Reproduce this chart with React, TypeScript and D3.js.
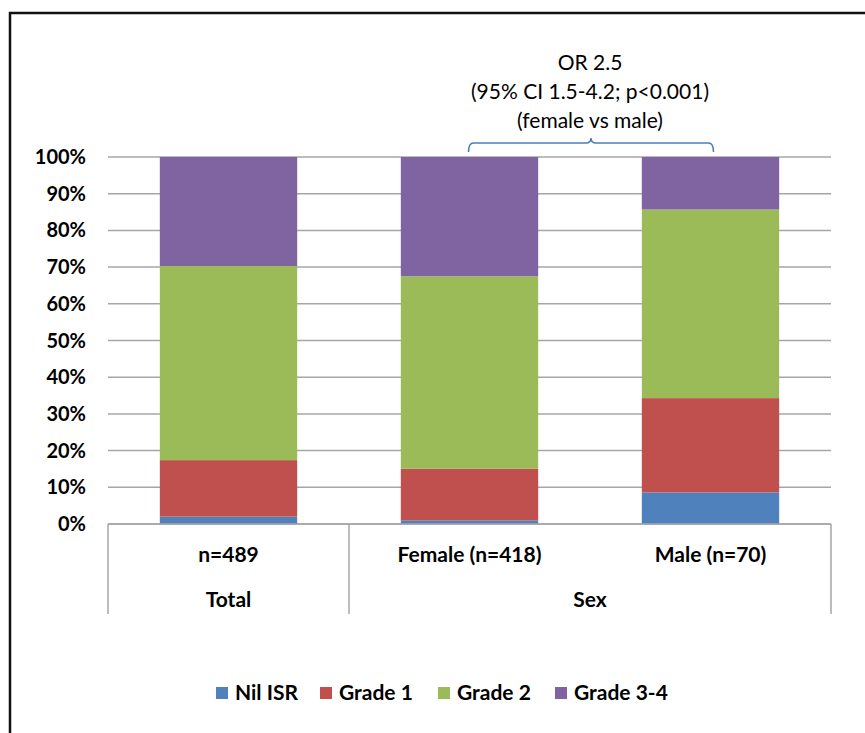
import React from "react";
import * as d3 from "d3";

const categories = ["n=489", "Female (n=418)", "Male (n=70)"];
const groups = [
  { label: "Total", span: 1 },
  { label: "Sex", span: 2 },
];
const seriesNames = ["Nil ISR", "Grade 1", "Grade 2", "Grade 3-4"];
const seriesColors = ["#4f81bd", "#c0504d", "#9bbb59", "#8064a2"];
const nilISR = [2.0, 1.0, 8.6];
const grade1 = [15.4, 14.1, 25.7];
const grade2 = [52.9, 52.4, 51.4];
const grade34 = [29.7, 32.5, 14.3];
const yTicks = [0, 10, 20, 30, 40, 50, 60, 70, 80, 90, 100];
const annotationLines = ["OR 2.5", "(95% CI 1.5-4.2; p<0.001)", "(female vs male)"];

const W = 865;
const H = 733;
const plot = { left: 108, right: 831, top: 157, bottom: 524 };
const FONT = "Lato, 'Open Sans', sans-serif";

export default function App() {
  const x = d3
    .scaleBand<string>()
    .domain(categories)
    .range([plot.left, plot.right])
    .paddingInner(0.43)
    .paddingOuter(0.215);
  const y = d3.scaleLinear().domain([0, 100]).range([plot.bottom, plot.top]);

  const rows = categories.map((c, i) => ({
    cat: c,
    "Nil ISR": nilISR[i],
    "Grade 1": grade1[i],
    "Grade 2": grade2[i],
    "Grade 3-4": grade34[i],
  }));
  const stacked = d3.stack<any>().keys(seriesNames)(rows);

  const step = (plot.right - plot.left) / categories.length;
  const bounds: number[] = [plot.left];
  let acc = 0;
  groups.forEach((g) => {
    acc += g.span;
    bounds.push(plot.left + acc * step);
  });

  const femaleX = x(categories[1])! + x.bandwidth() / 2;
  const maleX = x(categories[2])! + x.bandwidth() / 2;
  const bx0 = femaleX - 1;
  const bx1 = maleX + 3;
  const bmid = (bx0 + bx1) / 2;
  const bTop = 142;
  const bBot = 152;

  const legendItems = [
    { x: 216, text: seriesNames[0] },
    { x: 320, text: seriesNames[1] },
    { x: 438, text: seriesNames[2] },
    { x: 555, text: seriesNames[3] },
  ];

  return (
    <svg
      width={W}
      height={H}
      style={{ position: "absolute", left: 0, top: 0, background: "#fff" }}
      fontFamily={FONT}
    >
      <rect x={0} y={0} width={W} height={H} fill="#fff" />
      <rect x={10} y={13} width={W + 20} height={H + 20} fill="none" stroke="#111" strokeWidth={2.5} />

      {yTicks.map((t) => (
        <line
          key={t}
          x1={plot.left}
          x2={plot.right}
          y1={y(t)}
          y2={y(t)}
          stroke="#a6a6a6"
          strokeWidth={1.5}
        />
      ))}
      {yTicks.map((t) => (
        <text
          key={"l" + t}
          x={86}
          y={y(t)}
          dy="0.35em"
          textAnchor="end"
          fontSize={20}
          fontWeight="bold"
          fill="#000"
        >
          {t}%
        </text>
      ))}

      {stacked.map((s, si) => (
        <g key={s.key} fill={seriesColors[si]}>
          {s.map((d, i) => (
            <rect
              key={i}
              x={x(categories[i])}
              width={x.bandwidth()}
              y={y(d[1])}
              height={y(d[0]) - y(d[1])}
            />
          ))}
        </g>
      ))}

      <line x1={plot.left} x2={plot.right} y1={plot.bottom} y2={plot.bottom} stroke="#a6a6a6" strokeWidth={1.5} />
      {bounds.map((b, i) => (
        <line key={"b" + i} x1={b} x2={b} y1={plot.bottom} y2={614} stroke="#a6a6a6" strokeWidth={1.5} />
      ))}

      {categories.map((c) => (
        <text
          key={c}
          x={x(c)! + x.bandwidth() / 2}
          y={555}
          dy="0.35em"
          textAnchor="middle"
          fontSize={21}
          fontWeight="bold"
        >
          {c}
        </text>
      ))}
      {groups.map((g, i) => (
        <text
          key={g.label}
          x={(bounds[i] + bounds[i + 1]) / 2}
          y={600}
          dy="0.35em"
          textAnchor="middle"
          fontSize={21}
          fontWeight="bold"
        >
          {g.label}
        </text>
      ))}

      {annotationLines.map((l, i) => (
        <text key={i} x={590} y={63 + i * 29} dy="0.35em" textAnchor="middle" fontSize={21} fill="#000">
          {l}
        </text>
      ))}
      <path
        d={`M${bx0},${bBot} Q${bx0},${bTop + 1} ${bx0 + 5},${bTop + 1} L${bmid - 5},${bTop + 1} Q${bmid},${bTop + 1} ${bmid},${bTop - 4} Q${bmid},${bTop + 1} ${bmid + 5},${bTop + 1} L${bx1 - 5},${bTop + 1} Q${bx1},${bTop + 1} ${bx1},${bBot}`}
        fill="none"
        stroke="#4a7ebb"
        strokeWidth={1.5}
      />

      {legendItems.map((it, i) => (
        <g key={it.text}>
          <rect x={it.x} y={687} width={12} height={12} fill={seriesColors[i]} />
          <text x={it.x + 19} y={693} dy="0.35em" fontSize={21} fontWeight="bold">
            {it.text}
          </text>
        </g>
      ))}
    </svg>
  );
}
